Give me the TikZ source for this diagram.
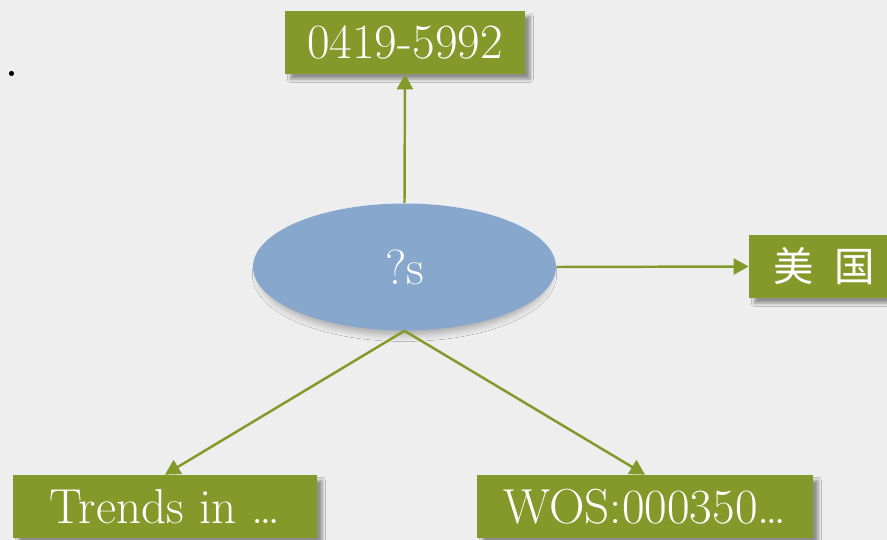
\documentclass[tikz,border=0pt]{standalone}
\usepackage{fontspec}
\newfontfamily\cjk{Noto Sans CJK SC}
\usepackage{tikz}
\usetikzlibrary{arrows.meta,
           shapes.geometric,          % ellipse
           shadows.blur}
\definecolor{olive}{RGB}{132,153,41}
\definecolor{bleu}{RGB}{135,168,204}
\definecolor{fond}{RGB}{238,238,238}
\tikzset{
  boite/.style={fill=olive,text=white,minimum height=1.26cm,inner sep=0pt,
    blur shadow={shadow xshift=3pt,shadow yshift=-3pt,shadow blur steps=6},
    font=\fontsize{28}{32}\selectfont},
  fleche/.style={olive,line width=1.4pt,-{Triangle[length=0.3cm,width=0.32cm]}}
}

\begin{document}
\begin{tikzpicture}[x=0.02cm,y=-0.02cm]
\clip(0,0)rectangle(887,540);
\fill[fond](0,0)rectangle(887,540);
\node(pt)at(12,74){\fontsize{20}{22}\selectfont\bfseries .};
\node[ellipse,fill=bleu,text=white,minimum width=6.06cm,minimum height=2.54cm,
  blur shadow={shadow xshift=0pt,shadow yshift=-4pt,shadow scale=0.96,
  shadow blur radius=4pt,shadow opacity=30,shadow blur steps=6},
  font=\fontsize{28}{32}\selectfont](s)at(404.5,267){?s};
\node[boite,minimum width=4.8cm](issn)at(405,42.5){0419-5992};
\node[boite,minimum width=3cm,font=\cjk\fontsize{23}{26}\selectfont](pays)at(824,266.5){美\hspace{0.5em}国};
\node[boite,minimum width=6.08cm](titre)at(165,506.5){Trends in \dots};
\node[boite,minimum width=6.72cm](wos)at(645,506.5){WOS:000350\dots};
\draw[fleche](s.north)--(issn.south);
\draw[fleche](s.east)--(pays.west);
\draw[fleche](s.south)--(titre.north);
\draw[fleche](s.south)--(wos.north);
\end{tikzpicture}
\end{document}
